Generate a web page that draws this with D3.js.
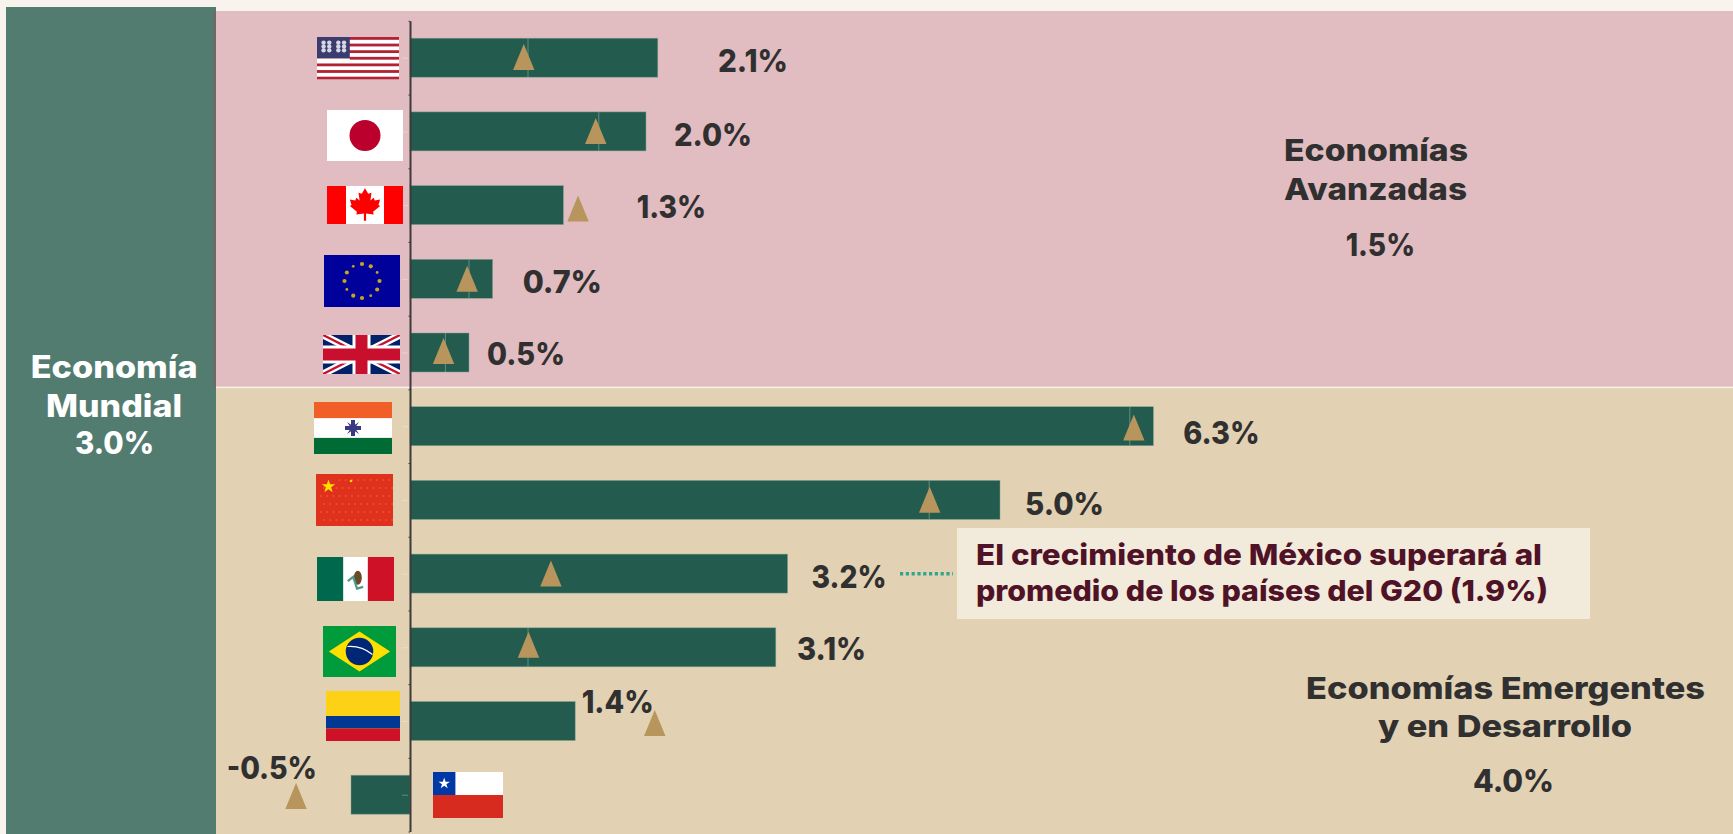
<!DOCTYPE html>
<html lang="es"><head><meta charset="utf-8"><title>Crecimiento</title>
<script src="https://cdn.jsdelivr.net/npm/d3@7/dist/d3.min.js"></script>
<style>html,body{margin:0;padding:0;background:#F8F3EC;overflow:hidden}svg{display:block}text{font-family:Inter,"Open Sans",sans-serif;font-weight:800}</style>
</head><body><svg id="c" width="1733" height="834"></svg>
<script>
// ---- data ----
const categories = ["Estados Unidos","Japón","Canadá","Zona Euro","Reino Unido","India","China","México","Brasil","Colombia","Chile"];
const growth = [2.1,2.0,1.3,0.7,0.5,6.3,5.0,3.2,3.1,1.4,-0.5];
const previous = [0.96,1.57,1.42,0.48,0.28,6.13,4.4,1.19,1.0,2.07,-0.97];
const refLines = [1.0,1.6,null,0.5,0.3,6.1,4.4,null,1.0,null,null];
const flagCodes = ["us","jp","ca","eu","uk","in","cn","mx","br","co","cl"];
const groupLabels = [["Economías","Avanzadas","1.5%"],["Economías Emergentes","y en Desarrollo","4.0%"]];
const worldLabels = ["Economía","Mundial","3.0%"];
const noteLines = ["El crecimiento de México superará al","promedio de los países del G20 (1.9%)"];

// ---- layout (not data) ----
const svg = d3.select("#c");
const C = {bg:"#F8F3EC",green:"#537C70",pink:"#E1BCC0",tan:"#E2D1B3",bar:"#235B4E",edge:"#7FA595",tri:"#B7955C",ink:"#303030",note:"#4F1227",noteBg:"#F2EADB"};
const x = d3.scaleLinear().domain([0,1]).range([410,528]);
const y = d3.scaleBand().domain(categories).range([20.85,831.55]).paddingInner(.471).paddingOuter(.2355);
const triNudge = [-.7,-.4,3.5,0,-1.5,1.2,-.2,0,-2.5,2,1.3];
const labelBox = [[718,788,71.7],[674,752,146],[636.7,706,218],[522.7,602,292.7],[487,565,365],[1183.3,1259.7,444],[1025,1104,515],[811.6,886.6,588.3],[797,866,660],[581.7,653.7,712.7],[226.7,317,779.3]];
const flagBox = [[317,37,82,43],[327,110,76,51],[327,186,76,38],[324,255,76,52],[323,335,77,39],[314,402,78,52],[316,474,77,52],[317,557,77,44],[323,626,73,51],[326,691,74,50],[433,772,70,46]];

function rect(g,a,b,w,h,f){return g.append("rect").attr("x",a).attr("y",b).attr("width",w).attr("height",h).attr("fill",f);}
function txt(g,s,x0,x1,base,size,fill){
  return g.append("text").attr("x",x0).attr("y",base).attr("font-size",size).attr("fill",fill)
    .attr("textLength",x1-x0).attr("lengthAdjust","spacingAndGlyphs").text(s);
}
function starPath(cx,cy,R,r,n=5,rot=0){
  const pts=d3.range(n*2).map(i=>{const a=rot+i*Math.PI/n;const q=i%2?r:R;return [cx+q*Math.sin(a),cy-q*Math.cos(a)];});
  return "M"+pts.map(p=>p.join(",")).join("L")+"Z";
}

// ---- panels ----
rect(svg,0,0,1733,834,C.bg);
rect(svg,216,11,1517,376,C.pink);
rect(svg,216,387,1517,447,C.tan);
rect(svg,216,386.6,1517,1.6,"#F7F0E8");
rect(svg,6,7,210,827,C.green);
rect(svg,213,11,3,376,"#6A6A66");

// ---- bars ----
const rows = svg.append("g").selectAll("g").data(categories).join("g");
rows.append("rect")
  .attr("x",(d,i)=>Math.min(x(0),x(growth[i]))).attr("y",d=>y(d))
  .attr("width",(d,i)=>Math.abs(x(growth[i])-x(0))).attr("height",y.bandwidth())
  .attr("fill",C.bar).attr("stroke",C.edge).attr("stroke-width",.6).attr("stroke-opacity",.8);
rows.filter((d,i)=>refLines[i]!==null).append("line")
  .attr("x1",d=>x(refLines[categories.indexOf(d)])).attr("x2",d=>x(refLines[categories.indexOf(d)]))
  .attr("y1",d=>y(d)).attr("y2",d=>y(d)+y.bandwidth()).attr("stroke",C.edge).attr("stroke-width",.7);
rows.append("rect").attr("x",402).attr("width",6).attr("height",1).attr("y",d=>y(d)+y.bandwidth()/2).attr("fill","#fff").attr("opacity",.3);

// ---- axis ----
const axisScale = d3.scaleLinear().domain([0,11]).range([20.85,831.55]);
const axisG = svg.append("g").attr("transform","translate(410,0)")
  .call(d3.axisLeft(axisScale).ticks(11).tickSize(1.5).tickSizeOuter(0).tickFormat(""));
axisG.selectAll("line,path").attr("stroke","#3B3B3B");
axisG.select("path").attr("stroke-width",2);

// ---- previous-forecast triangles ----
const tri = d3.line();
rows.append("path").attr("fill",C.tri).attr("d",(d,i)=>{
  const cx=x(previous[i])+.5, cy=y(d)+y.bandwidth()/2+triNudge[i];
  return tri([[cx,cy-13],[cx+10.7,cy+13],[cx-10.7,cy+13]])+"Z";
});

// ---- value labels ----
const fmt = v => v.toFixed(1)+"%";
categories.forEach((d,i)=>{const b=labelBox[i]; txt(svg,fmt(growth[i]),b[0],b[1],b[2],31,C.ink);});

// ---- group and world labels ----
txt(svg,groupLabels[0][0],1284,1468,160.7,30.5,C.ink);
txt(svg,groupLabels[0][1],1284,1467,200,30.5,C.ink);
txt(svg,groupLabels[0][2],1345.7,1415,256,31,C.ink);
txt(svg,groupLabels[1][0],1306,1705,699.3,30.5,C.ink);
txt(svg,groupLabels[1][1],1378,1632,737.3,30.5,C.ink);
txt(svg,groupLabels[1][2],1473,1554,791.7,31,C.ink);
txt(svg,worldLabels[0],30.7,197.7,377.7,31,"#fff");
txt(svg,worldLabels[1],46,182,416.7,31,"#fff");
txt(svg,worldLabels[2],75,154,454,31,"#fff");

// ---- note ----
rect(svg,957,528,633,91,C.noteBg);
txt(svg,noteLines[0],976,1542,565,29,C.note);
txt(svg,noteLines[1],976,1548,600.7,29,C.note);
svg.append("line").attr("x1",900).attr("x2",953).attr("y1",573.7).attr("y2",573.7)
  .attr("stroke","#2EA58F").attr("stroke-width",3.5).attr("stroke-dasharray","3.2 2.6");

// ---- flags: each is drawn in its own box ----
const flags = {
 us(g,w,h){rect(g,0,0,w,h,"#fff");
   d3.range(7).forEach(i=>rect(g,0,i*2*h/13,w,h/13*.85,"#B22234"));
   rect(g,0,0,w*.4,h*.5,"#3C3B6E");
   [.08,.15,.26,.33].forEach(a=>[.13,.22,.31].forEach(b=>g.append("circle").attr("cx",a*w).attr("cy",b*h).attr("r",2.2).attr("fill","#D4D7E6")));
   rect(g,0,h*.5,w*.4,h*.06,"#fff");},
 jp(g,w,h){rect(g,0,0,w,h,"#fff");g.append("circle").attr("cx",w/2).attr("cy",h/2).attr("r",15.5).attr("fill","#BC002D");},
 ca(g,w,h){rect(g,0,0,w,h,"#fff");rect(g,0,0,w*.25,h,"#FF0000");rect(g,w*.75,0,w*.25,h,"#FF0000");
   const leaf=[[0,-15],[3,-10],[6,-11],[5,-4],[8,-6.5],[9,-4],[14,-5],[12.5,0],[14,1],[7.5,6],[8,8.5],[1,7.5],[1,14],[-1,14],[-1,7.5],[-8,8.5],[-7.5,6],[-14,1],[-12.5,0],[-14,-5],[-9,-4],[-8,-6.5],[-5,-4],[-6,-11],[-3,-10]];
   g.append("path").attr("transform",`translate(${w/2},${h/2}) scale(1.08,1.12)`).attr("d",d3.line()(leaf)+"Z").attr("fill","#FF0000");},
 eu(g,w,h){rect(g,0,0,w,h,"#00009A");
   d3.range(12).forEach(i=>{const a=i*Math.PI/6;g.append("circle").attr("cx",w/2+17.5*Math.sin(a)).attr("cy",h/2-17*Math.cos(a)).attr("r",i%3===2?1.4:2.1).attr("fill","#C9A41E");});},
 uk(g,w,h){rect(g,0,0,w,h,"#012169");
   const d=(x1,y1,x2,y2,c,sw)=>g.append("line").attr("x1",x1).attr("y1",y1).attr("x2",x2).attr("y2",y2).attr("stroke",c).attr("stroke-width",sw);
   d(0,0,w,h,"#fff",7);d(w,0,0,h,"#fff",7);d(0,0,w,h,"#C8102E",2.4);d(w,0,0,h,"#C8102E",2.4);
   rect(g,w/2-9,0,18,h,"#fff");rect(g,0,h/2-9,w,18,"#fff");
   rect(g,w/2-6,0,12,h,"#C8102E");rect(g,0,h/2-6,w,12,"#C8102E");},
 in(g,w,h){rect(g,0,0,w,h,"#fff");rect(g,0,0,w,h*.31,"#F15F28");rect(g,0,h*.69,w,h*.31,"#006B35");
   g.append("path").attr("d",starPath(w/2,h/2,8.5,3,8,0)).attr("fill","#39397F");
   rect(g,w/2-8,h/2-2,16,4,"#39397F");rect(g,w/2-2,h/2-8,4,16,"#39397F");},
 cn(g,w,h){rect(g,0,0,w,h,"#E0301E");
   d3.range(6).forEach(r=>d3.range(12).forEach(c=>{if(r<1&&c<3)return;g.append("circle").attr("cx",5+c*6.2+(r%2?3:0)).attr("cy",6+r*8).attr("r",1.1).attr("fill","#E9621A").attr("opacity",.75);}));
   g.append("path").attr("d",starPath(12.5,12.5,7,2.8)).attr("fill","#FFDE00");
   g.append("circle").attr("cx",35).attr("cy",7).attr("r",1.3).attr("fill","#FFDE00");},
 mx(g,w,h){rect(g,0,0,w,h,"#fff");rect(g,0,0,w*.34,h,"#00684C");rect(g,w*.66,0,w*.34,h,"#CE1126");
   g.append("ellipse").attr("cx",w*.53).attr("cy",h*.47).attr("rx",4).attr("ry",7).attr("fill","#6B4A2A");
   g.append("path").attr("d",`M${w*.4},${h*.55}L${w*.47},${h*.45}L${w*.52},${h*.72}L${w*.6},${h*.68}`).attr("fill","none").attr("stroke","#4E9A8A").attr("stroke-width",2.2);},
 br(g,w,h){rect(g,0,0,w,h,"#009B3A");
   g.append("path").attr("d",d3.line()([[w*.08,h/2],[w/2,h*.11],[w*.92,h/2],[w/2,h*.89]])+"Z").attr("fill","#FEDF00");
   g.append("circle").attr("cx",w/2).attr("cy",h/2).attr("r",h*.27).attr("fill","#002776");
   g.append("path").attr("d",`M${w/2-12},${h/2-5}Q${w/2+2},${h/2-6} ${w/2+13},${h/2+3}`).attr("fill","none").attr("stroke","#fff").attr("stroke-width",1.2);},
 co(g,w,h){rect(g,0,0,w,h,"#FCD116");rect(g,0,h*.5,w,h*.25,"#003893");rect(g,0,h*.75,w,h*.25,"#CE1126");},
 cl(g,w,h){rect(g,0,0,w,h,"#fff");rect(g,0,h*.5,w,h*.5,"#D72B1F");rect(g,0,0,w*.32,h*.5,"#0039A6");
   g.append("path").attr("d",starPath(w*.16,h*.25,6,2.3)).attr("fill","#fff");}
};
flagCodes.forEach((code,i)=>{const b=flagBox[i];
  const g=svg.append("g").attr("class","flag").attr("transform",`translate(${b[0]},${b[1]})`);
  const id="clip"+i; g.append("clipPath").attr("id",id).append("rect").attr("width",b[2]).attr("height",b[3]);
  const inner=g.append("g").attr("clip-path",`url(#${id})`);
  flags[code](inner,b[2],b[3]);
});
</script></body></html>
